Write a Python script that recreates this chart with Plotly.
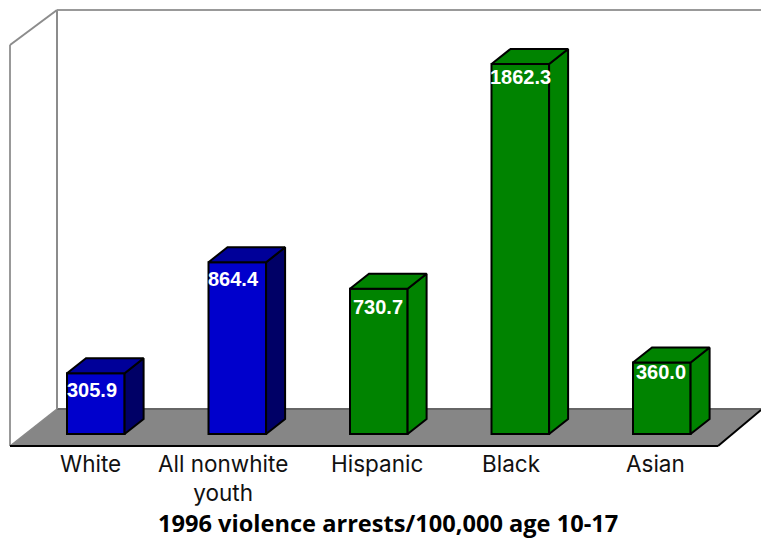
import plotly.graph_objects as go

categories = ["White", "All nonwhite<br>youth", "Hispanic", "Black", "Asian"]
values = [305.9, 864.4, 730.7, 1862.3, 360.0]
value_labels = ["305.9", "864.4", "730.7", "1862.3", "360.0"]
title_text = "1996 violence arrests/100,000 age 10-17"

front_colors = ["#0000CC", "#0000CC", "#008300", "#008300", "#008300"]
side_colors = ["#000066", "#000066", "#008300", "#008300", "#008300"]
top_colors = ["#000099", "#000099", "#008300", "#008300", "#008300"]

W, H = 761, 538
X0, DX = 95.8, 141.5      # pixel centre of first bar, bar spacing
Y0, SY = 434.0, 0.1987    # pixel of value 0, pixels per unit

def ux(px):
    return (px - X0) / DX

def uy(py):
    return (Y0 - py) / SY

half = 28.8 / DX
bar_dx = 19 / DX
bar_dy = 15 / SY

fig = go.Figure()

# front faces
fig.add_trace(go.Bar(
    x=list(range(len(values))), y=values, width=2 * half,
    marker=dict(color=front_colors, line=dict(color="black", width=2)),
    hoverinfo="skip", showlegend=False,
))

# side and top faces
for i, v in enumerate(values):
    fig.add_trace(go.Scatter(
        x=[i + half, i + half + bar_dx, i + half + bar_dx, i + half, i + half],
        y=[0, bar_dy, v + bar_dy, v, 0],
        mode="lines", fill="toself", fillcolor=side_colors[i],
        line=dict(color="black", width=2), hoverinfo="skip", showlegend=False,
    ))
    fig.add_trace(go.Scatter(
        x=[i - half, i - half + bar_dx, i + half + bar_dx, i + half, i - half],
        y=[v, v + bar_dy, v + bar_dy, v, v],
        mode="lines", fill="toself", fillcolor=top_colors[i],
        line=dict(color="black", width=2), hoverinfo="skip", showlegend=False,
    ))

def seg(x1, y1, x2, y2, color, width):
    return dict(type="line", layer="below", xref="x", yref="y",
                x0=ux(x1), y0=uy(y1), x1=ux(x2), y1=uy(y2),
                line=dict(color=color, width=width))

floor_path = "M {} {} L {} {} L {} {} L {} {} L {} {} Z".format(
    ux(10), uy(446), ux(57), uy(409), ux(765), uy(409), ux(765), uy(406), ux(718), uy(446))
shapes = [
    dict(type="path", layer="below", xref="x", yref="y", path=floor_path,
         fillcolor="#868686", line=dict(width=0)),
    seg(57, 409, 761, 409, "#666666", 2),
    seg(10, 45, 10, 446, "#999999", 2),
    seg(57, 10, 57, 409, "#8c8c8c", 2),
    seg(57, 10, 761, 10, "#999999", 2),
    seg(10, 45, 57, 10, "#8c8c8c", 2),
    seg(10, 446, 57, 409, "#888888", 1.5),
    seg(10, 446, 718, 446, "black", 2),
    seg(718, 446, 761, 410, "black", 2),
]

annotations = []
label_px = [90, 223, 377, 511, 655]
for i, c in enumerate(categories):
    annotations.append(dict(
        x=ux(label_px[i]), y=uy(448), xref="x", yref="y", text=c, showarrow=False,
        xanchor="center", yanchor="top", align="center",
        font=dict(family="Inter", size=22.5, color="#111111"),
    ))
value_px = [92, 233, 378, 520, 661]
value_shift = [-17, -17, -18, -13, -10]
for i, t in enumerate(value_labels):
    annotations.append(dict(
        x=ux(value_px[i]), y=values[i], xref="x", yref="y", yshift=value_shift[i], text=t,
        showarrow=False, xanchor="center", yanchor="middle",
        font=dict(family="Liberation Sans", size=20, color="white", weight="bold"),
    ))
annotations.append(dict(
    x=ux(388), y=uy(523), xref="x", yref="y", text="<b>" + title_text + "</b>", showarrow=False,
    xanchor="center", yanchor="middle",
    font=dict(family="Open Sans", size=23.6, color="black"),
))

fig.update_layout(
    width=W, height=H, margin=dict(l=0, r=0, t=0, b=0),
    paper_bgcolor="white", plot_bgcolor="white",
    showlegend=False, shapes=shapes, annotations=annotations,
    xaxis=dict(range=[ux(0), ux(W)], visible=False, fixedrange=True),
    yaxis=dict(range=[uy(H), uy(0)], visible=False, fixedrange=True),
)
fig.write_html("out.html", config={"displayModeBar": False},
               post_script="document.body.style.margin='0';document.documentElement.style.overflow='hidden';")
